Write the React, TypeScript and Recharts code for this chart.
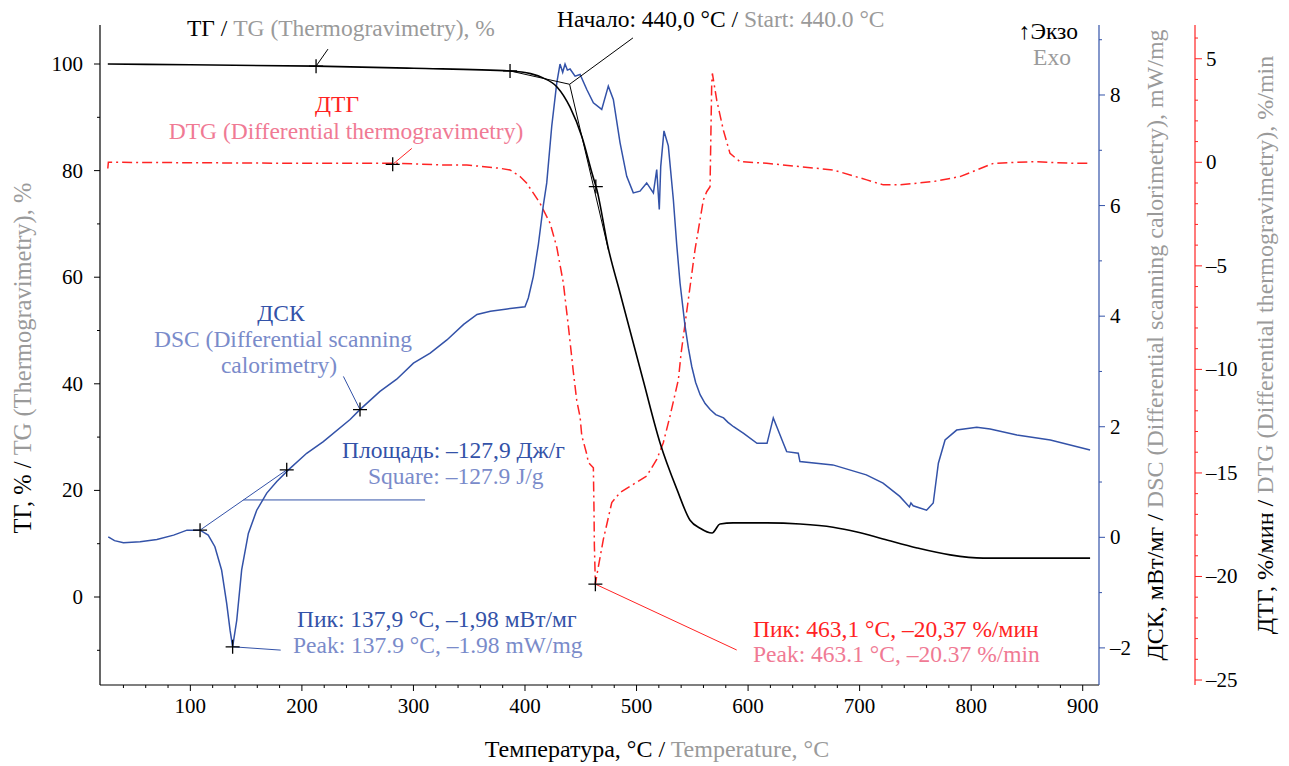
import React from "react";
import {
  ComposedChart,
  Line,
  XAxis,
  YAxis,
  ReferenceDot,
  ReferenceLine,
} from "recharts";

const FONT = '"Liberation Serif", "Times New Roman", serif';

const BLUE = "#3352a8";
const BLUE_LIGHT = "#7a8bca";
const RED = "#ff2323";
const PINK = "#f07a94";
const GRAY = "#9a9a9a";

// TG, %
const tgTemp = [
  26, 100, 212.7, 300, 386.6, 405, 416.2, 428.7, 440.4, 451.1, 460.1, 464.6,
  474.5, 485.3, 505.9, 521.1, 536.4, 548, 557, 567.7, 574.9, 586.5, 617, 646.6,
  676.2, 697.7, 721, 751.5, 781.1, 810.7, 906.6,
];
const tgValue = [
  100, 99.85, 99.6, 99.2, 98.7, 98.2, 97.4, 95.7, 91.9, 86.3, 79.5, 76.3, 65.6,
  57.0, 40.7, 28.9, 20.1, 14.4, 12.9, 12.0, 13.7, 13.9, 13.9, 13.7, 13.1, 12.2,
  10.9, 9.2, 7.9, 7.3, 7.3,
];

// DSC, mW/mg
const dscTemp = [
  26.4, 32, 40, 55, 70, 85, 97, 108.7, 116, 122, 128, 132.6, 135.6, 137.9,
  141.6, 146, 152, 159.5, 168.5, 177.5, 187.9, 204.3, 219.2, 243.2, 252, 270,
  285, 300, 315, 330, 345, 357, 369, 384, 400, 403, 407.5, 412, 416.4, 419.5,
  424, 428.5, 431.4, 433.8, 435.9, 438, 440.4, 444.9, 449.4, 455.4, 461.3,
  468.8, 474.7, 479.2, 485.2, 491.2, 497.1, 503.1, 509.1, 515.1, 518.1, 520.4,
  521.7, 524.6, 528.5, 533, 536, 539, 543.5, 546.5, 549.5, 553, 557, 561.5,
  566, 571, 578, 582, 587, 596, 608, 617, 622.6, 631.6, 634.6, 645, 646.5, 676,
  706, 721, 736, 744.6, 746, 748, 760, 766, 770.6, 776.6, 787, 805, 817, 841,
  871, 906.6,
];
const dscValue = [
  0.01, -0.06, -0.1, -0.08, -0.04, 0.04, 0.13, 0.13, 0.04, -0.17, -0.59, -1.2,
  -1.68, -1.98, -1.5, -0.59, 0.07, 0.49, 0.8, 1.01, 1.22, 1.52, 1.73, 2.13,
  2.31, 2.64, 2.86, 3.15, 3.33, 3.57, 3.85, 4.03, 4.09, 4.13, 4.17, 4.33, 4.72,
  5.3, 6.0, 6.41, 7.44, 8.22, 8.56, 8.41, 8.56, 8.45, 8.47, 8.34, 8.37, 8.1,
  7.86, 7.74, 8.16, 7.92, 7.14, 6.53, 6.23, 6.26, 6.41, 6.23, 6.65, 5.93, 6.71,
  7.35, 7.08, 6.11, 5.3, 4.6, 3.82, 3.42, 3.09, 2.8, 2.58, 2.42, 2.31, 2.22,
  2.16, 2.08, 2.0, 1.88, 1.7, 1.7, 2.16, 1.7, 1.55, 1.52, 1.37, 1.31, 1.13,
  0.98, 0.74, 0.55, 0.62, 0.57, 0.49, 0.62, 1.34, 1.76, 1.94, 1.99, 1.96, 1.85,
  1.76, 1.58,
];

// DTG, %/min
const dtgTemp = [
  26, 26.5, 30, 100, 200, 288, 326.5, 347.8, 377.6, 386.6, 395.6, 401.6, 407.5,
  413.5, 422.5, 428.5, 434.4, 438.9, 443.3, 446.4, 449.4, 450.9, 455.4, 456.8,
  461.3, 461.9, 462.2, 463.1, 464.3, 470.2, 477.8, 485.2, 497.1, 509.1, 518.1,
  524, 530, 537.5, 540, 546.4, 552.4, 559.9, 562.9, 565.9, 567.4, 568, 571.9,
  577.8, 583.8, 592.8, 616.7, 646.6, 676.4, 706.4, 721.2, 736.2, 766.1, 790,
  819.9, 855.7, 891.6, 905,
];
const dtgValue = [
  -0.3, 0, 0, -0.02, -0.05, -0.05, -0.13, -0.13, -0.29, -0.37, -0.69, -1.01,
  -1.49, -1.98, -2.94, -4.1, -5.83, -7.92, -10.1, -11.5, -12.3, -13.2, -14.1,
  -14.5, -14.75, -16.9, -18.5, -20.37, -19.97, -18.22, -16.43, -15.95, -15.55,
  -15.15, -14.35, -13.54, -12.26, -10.5, -9.2, -6.64, -4.23, -1.82, -1.42,
  -1.18, 3.81, 4.29, 3.0, 1.56, 0.43, 0.03, -0.05, -0.21, -0.37, -0.85, -1.09,
  -1.09, -0.93, -0.69, -0.05, 0.03, -0.05, -0.05,
];

// axis ticks
const tempTicks = Array.from({ length: 44 }, (_, i) => 40 + i * 20);
const tgTicks = [-10, 0, 10, 20, 30, 40, 50, 60, 70, 80, 90, 100];
const dscTicks = [-2, -1, 0, 1, 2, 3, 4, 5, 6, 7, 8, 9];
const dtgTicks = Array.from({ length: 32 }, (_, i) => -25 + i);

const tgData = tgTemp.map((t, i) => ({ t, v: tgValue[i] }));
const dscData = dscTemp.map((t, i) => ({ t, v: dscValue[i] }));
const dtgData = dtgTemp.map((t, i) => ({ t, v: dtgValue[i] }));

const fmt = (v: number) => String(v).replace("-", "–");

const XTick = (props: any) => {
  const { x, y, payload } = props;
  const v = payload.value;
  const major = v % 100 === 0;
  return (
    <g>
      <line x1={x} x2={x} y1={y} y2={y + (major ? 6 : 3)} stroke="#000" />
      {major && (
        <text x={x} y={y + 28} textAnchor="middle" fontSize={21} fontFamily={FONT} fill="#000">
          {v}
        </text>
      )}
    </g>
  );
};

const TgTick = (props: any) => {
  const { x, y, payload } = props;
  const v = payload.value;
  const major = v % 20 === 0 && v >= 0;
  return (
    <g>
      <line x1={x - (major ? 6 : 3)} x2={x} y1={y} y2={y} stroke="#000" />
      {major && (
        <text x={x - 17} y={y + 7} textAnchor="end" fontSize={21} fontFamily={FONT} fill="#000">
          {fmt(v)}
        </text>
      )}
    </g>
  );
};

const DscTick = (props: any) => {
  const { x, y, payload } = props;
  const v = payload.value;
  const major = v % 2 === 0;
  return (
    <g>
      <line x1={x} x2={x + (major ? 6 : 3)} y1={y} y2={y} stroke={BLUE} />
      {major && (
        <text x={x + 11} y={y + 7} textAnchor="start" fontSize={21} fontFamily={FONT} fill="#000">
          {fmt(v)}
        </text>
      )}
    </g>
  );
};

const DtgTick = (props: any) => {
  const { x, y, payload } = props;
  const v = payload.value;
  const major = v % 5 === 0;
  return (
    <g>
      <line x1={x} x2={x + (major ? 7 : 3)} y1={y} y2={y} stroke={RED} />
      {major && (
        <text x={x + 11} y={y + 7} textAnchor="start" fontSize={21} fontFamily={FONT} fill="#000">
          {fmt(v)}
        </text>
      )}
    </g>
  );
};

const Cross = (props: any) => {
  const { cx, cy } = props;
  return (
    <path
      d={`M${cx - 7},${cy}H${cx + 7}M${cx},${cy - 7}V${cy + 7}`}
      stroke="#000"
      strokeWidth={1.3}
      fill="none"
    />
  );
};

const tgMarks = [
  { x: 212.7, y: 99.6 },
  { x: 386.6, y: 98.7 },
  { x: 463.5, y: 77 },
];
const dscMarks = [
  { x: 108.7, y: 0.13 },
  { x: 186.4, y: 1.22 },
  { x: 252.1, y: 2.31 },
  { x: 137.9, y: -1.98 },
];
const dtgMarks = [
  { x: 281.4, y: -0.1 },
  { x: 463.1, y: -20.37 },
];

// leader / construction lines in data units
const tgSegments = [
  [{ x: 212.7, y: 99.6 }, { x: 223.4, y: 102.8 }],
  [{ x: 386.6, y: 98.7 }, { x: 440, y: 96.2 }],
  [{ x: 440, y: 96.2 }, { x: 474.8, y: 65.1 }],
  [{ x: 440, y: 96.2 }, { x: 496.8, y: 104.9 }],
];
const dscSegments = [
  [{ x: 252.1, y: 2.31 }, { x: 237.2, y: 2.91 }],
  [{ x: 108.7, y: 0.13 }, { x: 186.4, y: 1.22 }],
  [{ x: 147.5, y: 0.676 }, { x: 310.4, y: 0.676 }],
  [{ x: 137.9, y: -1.98 }, { x: 181, y: -2.04 }],
];
const dtgSegments = [
  [{ x: 281.4, y: -0.1 }, { x: 298.5, y: 0.67 }],
  [{ x: 463.1, y: -20.37 }, { x: 589.8, y: -23.55 }],
];

export default function App() {
  return (
    <div style={{ position: "absolute", left: 0, top: 0, width: 1289, height: 766, background: "#fff" }}>
      <ComposedChart width={1289} height={766} margin={{ top: 25, right: 0, bottom: 0, left: 0 }}>
        <XAxis
          xAxisId="t"
          dataKey="t"
          type="number"
          domain={[19, 914.6]}
          allowDataOverflow
          ticks={tempTicks}
          interval={0}
          height={81}
          tickSize={0}
          tickMargin={0}
          tickLine={false}
          axisLine={{ stroke: "#000", strokeWidth: 1.2 }}
          tick={<XTick />}
        />
        <YAxis
          yAxisId="tg"
          orientation="left"
          type="number"
          domain={[-16.51, 107.32]}
          allowDataOverflow
          ticks={tgTicks}
          interval={0}
          width={100}
          tickSize={0}
          tickMargin={0}
          tickLine={false}
          axisLine={{ stroke: "#000", strokeWidth: 1.2 }}
          tick={<TgTick />}
        />
        <YAxis
          yAxisId="dsc"
          orientation="right"
          type="number"
          domain={[-2.671, 9.266]}
          allowDataOverflow
          ticks={dscTicks}
          interval={0}
          width={96}
          tickSize={0}
          tickMargin={0}
          tickLine={false}
          axisLine={{ stroke: BLUE, strokeWidth: 1.2 }}
          tick={<DscTick />}
        />
        <YAxis
          yAxisId="dtg"
          orientation="right"
          type="number"
          domain={[-25.24, 6.63]}
          allowDataOverflow
          ticks={dtgTicks}
          interval={0}
          width={94}
          tickSize={0}
          tickMargin={0}
          tickLine={false}
          axisLine={{ stroke: RED, strokeWidth: 1.2 }}
          tick={<DtgTick />}
        />

        <Line
          xAxisId="t"
          yAxisId="dtg"
          data={dtgData}
          dataKey="v"
          type="linear"
          stroke={RED}
          strokeWidth={1.5}
          strokeDasharray="10 4 2 4"
          dot={false}
          isAnimationActive={false}
        />
        <Line
          xAxisId="t"
          yAxisId="dsc"
          data={dscData}
          dataKey="v"
          type="linear"
          stroke={BLUE}
          strokeWidth={1.5}
          dot={false}
          isAnimationActive={false}
        />
        <Line
          xAxisId="t"
          yAxisId="tg"
          data={tgData}
          dataKey="v"
          type="monotone"
          stroke="#000"
          strokeWidth={1.6}
          dot={false}
          isAnimationActive={false}
        />

        {tgSegments.map((s, i) => (
          <ReferenceLine key={`tgs${i}`} xAxisId="t" yAxisId="tg" segment={s} stroke="#000" strokeWidth={1} ifOverflow="visible" />
        ))}
        {dscSegments.map((s, i) => (
          <ReferenceLine key={`dscs${i}`} xAxisId="t" yAxisId="dsc" segment={s} stroke={BLUE} strokeWidth={1} ifOverflow="visible" />
        ))}
        {dtgSegments.map((s, i) => (
          <ReferenceLine key={`dtgs${i}`} xAxisId="t" yAxisId="dtg" segment={s} stroke={RED} strokeWidth={1} ifOverflow="visible" />
        ))}

        {tgMarks.map((m, i) => (
          <ReferenceDot key={`tgm${i}`} xAxisId="t" yAxisId="tg" x={m.x} y={m.y} r={7} shape={<Cross />} ifOverflow="visible" />
        ))}
        {dscMarks.map((m, i) => (
          <ReferenceDot key={`dscm${i}`} xAxisId="t" yAxisId="dsc" x={m.x} y={m.y} r={7} shape={<Cross />} ifOverflow="visible" />
        ))}
        {dtgMarks.map((m, i) => (
          <ReferenceDot key={`dtgm${i}`} xAxisId="t" yAxisId="dtg" x={m.x} y={m.y} r={7} shape={<Cross />} ifOverflow="visible" />
        ))}
      </ComposedChart>

      <svg
        width={1289}
        height={766}
        style={{ position: "absolute", left: 0, top: 0, pointerEvents: "none", fontFamily: FONT }}
        fontSize={23.5}
      >
        <text x={187} y={36}>
          <tspan fill="#000">ТГ / </tspan>
          <tspan fill={GRAY}>TG (Thermogravimetry), %</tspan>
        </text>
        <text x={557} y={27}>
          <tspan fill="#000">Начало: 440,0 °C / </tspan>
          <tspan fill={GRAY}>Start: 440.0 °C</tspan>
        </text>
        <text x={1078} y={39} textAnchor="end" fill="#000">↑Экзо</text>
        <text x={1052} y={65} textAnchor="middle" fill={GRAY}>Exo</text>

        <text x={337} y={112} textAnchor="middle" fill={RED}>ДТГ</text>
        <text x={346} y={139} textAnchor="middle" fill={PINK}>DTG (Differential thermogravimetry)</text>

        <text x={281} y={321} textAnchor="middle" fill={BLUE}>ДСК</text>
        <text x={283} y={347} textAnchor="middle" fill={BLUE_LIGHT}>DSC (Differential scanning</text>
        <text x={279} y={373} textAnchor="middle" fill={BLUE_LIGHT}>calorimetry)</text>

        <text x={342} y={458} fill={BLUE}>Площадь: –127,9 Дж/г</text>
        <text x={368} y={484} fill={BLUE_LIGHT}>Square: –127.9 J/g</text>

        <text x={297} y={627} fill={BLUE}>Пик: 137,9 °C, –1,98 мВт/мг</text>
        <text x={293} y={653} fill={BLUE_LIGHT}>Peak: 137.9 °C, –1.98 mW/mg</text>

        <text x={753} y={637} fill={RED}>Пик: 463,1 °C, –20,37 %/мин</text>
        <text x={753} y={662} fill={PINK}>Peak: 463.1 °C, –20.37 %/min</text>

        <text x={657} y={757} textAnchor="middle" fontSize={24}>
          <tspan fill="#000">Температура, °C / </tspan>
          <tspan fill={GRAY}>Temperature, °C</tspan>
        </text>

        <text transform="translate(22,358) rotate(-90)" textAnchor="middle" dominantBaseline="central" fontSize={24.5}>
          <tspan fill="#000">ТГ, % / </tspan>
          <tspan fill={GRAY}>TG (Thermogravimetry), %</tspan>
        </text>
        <text transform="translate(1155,345) rotate(-90)" textAnchor="middle" dominantBaseline="central" fontSize={24}>
          <tspan fill="#000">ДСК, мВт/мг / </tspan>
          <tspan fill={GRAY}>DSC (Differential scanning calorimetry), mW/mg</tspan>
        </text>
        <text transform="translate(1265,345) rotate(-90)" textAnchor="middle" dominantBaseline="central" fontSize={24}>
          <tspan fill="#000">ДТГ, %/мин / </tspan>
          <tspan fill={GRAY}>DTG (Differential thermogravimetry), %/min</tspan>
        </text>
      </svg>
    </div>
  );
}
